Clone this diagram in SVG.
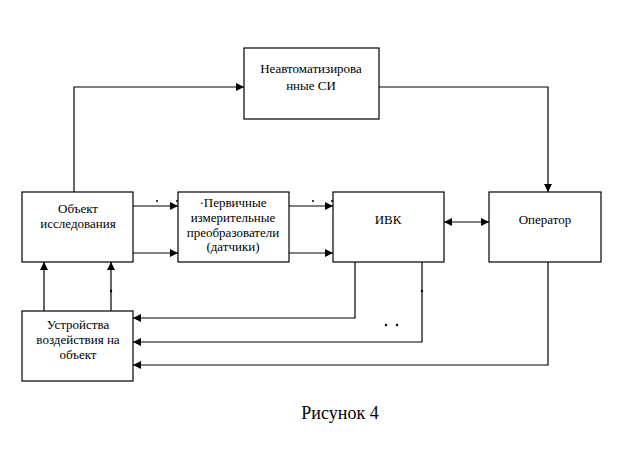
<svg xmlns="http://www.w3.org/2000/svg" width="630" height="453" viewBox="0 0 630 453">
<style>
.box{fill:#fff;stroke:#000;stroke-width:1.2}
.ln{fill:none;stroke:#000;stroke-width:1.2}
text{font-family:"Liberation Serif","Times New Roman",serif;font-size:13px;fill:#000;text-anchor:middle}
.cap{font-size:18px}
.dot{fill:#000}
</style>
<defs>
<marker id="ah" viewBox="0 0 10 10" refX="10" refY="5" markerWidth="8" markerHeight="8" markerUnits="userSpaceOnUse" orient="auto-start-reverse">
<path d="M0,0 L10,5 L0,10 z" fill="#000"/>
</marker>
</defs>
<rect width="630" height="453" fill="#fff"/>
<g id="connectors">
<path class="ln" d="M74,192 V87 H244" marker-end="url(#ah)"/>
<path class="ln" d="M379,87 H548 V192" marker-end="url(#ah)"/>
<path class="ln" d="M133,206 H178" marker-end="url(#ah)"/>
<path class="ln" d="M133,253 H178" marker-end="url(#ah)"/>
<path class="ln" d="M289,206 H333" marker-end="url(#ah)"/>
<path class="ln" d="M289,253 H333" marker-end="url(#ah)"/>
<path class="ln" d="M444,222 H489" marker-start="url(#ah)" marker-end="url(#ah)"/>
<path class="ln" d="M355,262 V318 H133" marker-end="url(#ah)"/>
<path class="ln" d="M422,262 V342 H133" marker-end="url(#ah)"/>
<path class="ln" d="M548,262 V365 H133" marker-end="url(#ah)"/>
<path class="ln" d="M44,311 V262" marker-end="url(#ah)"/>
<path class="ln" d="M111,311 V262" marker-end="url(#ah)"/>
<circle class="dot" cx="157" cy="201" r="1"/>
<circle class="dot" cx="177" cy="201" r="1"/>
<circle class="dot" cx="313" cy="201" r="1"/>
<circle class="dot" cx="332" cy="201" r="1"/>
<circle class="dot" cx="352" cy="201" r="1"/>
<circle class="dot" cx="111" cy="291" r="1.2"/>
<circle class="dot" cx="422" cy="291" r="1.2"/>
<circle class="dot" cx="386" cy="325" r="1.2"/>
<circle class="dot" cx="397" cy="325" r="1.2"/>
</g>
<g id="node-si">
<rect class="box" x="244" y="48" width="135" height="71"/>
<text x="311" y="73">Неавтоматизирова</text>
<text x="311" y="90">нные СИ</text>
</g>
<g id="node-object">
<rect class="box" x="22" y="192" width="111" height="70"/>
<text x="78" y="213">Объект</text>
<text x="78" y="228">исследования</text>
</g>
<g id="node-sensors">
<rect class="box" x="178" y="192" width="111" height="70"/>
<text x="233" y="207">·Первичные</text>
<text x="233" y="222">измерительные</text>
<text x="233" y="237">преобразователи</text>
<text x="233" y="251">(датчики)</text>
</g>
<g id="node-ivk">
<rect class="box" x="333" y="192" width="111" height="70"/>
<text x="388" y="224">ИВК</text>
</g>
<g id="node-operator">
<rect class="box" x="489" y="192" width="112" height="70"/>
<text x="545" y="224">Оператор</text>
</g>
<g id="node-devices">
<rect class="box" x="22" y="311" width="111" height="70"/>
<text x="78" y="329">Устройства</text>
<text x="78" y="344">воздействия на</text>
<text x="78" y="359">объект</text>
</g>
<text class="cap" x="340" y="419">Рисунок 4</text>
</svg>
